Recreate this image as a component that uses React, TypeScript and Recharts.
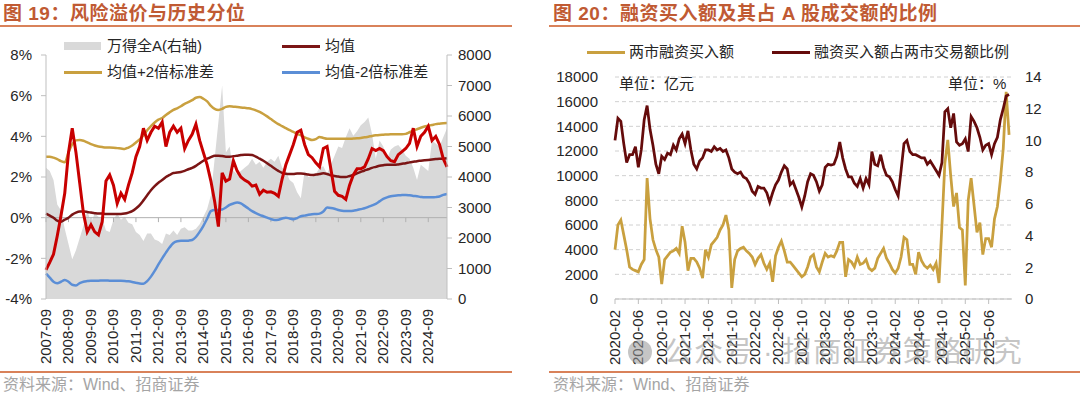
import React from 'react';
import { ComposedChart, LineChart, Area, Line, XAxis, YAxis, ReferenceLine, CartesianGrid } from 'recharts';

const FONT = "'Liberation Sans', 'Noto Sans CJK SC', sans-serif";
const TITLE_COLOR = '#c05a33';
const RULE_COLOR = '#d9825a';
const TEXT = '#262626';

// 图19 —— 每两个月一个点，从 2007-09 起
const leftTickLabels = [
  '2007-09', '2008-09', '2009-09', '2010-09', '2011-09', '2012-09', '2013-09', '2014-09', '2015-09',
  '2016-09', '2017-09', '2018-09', '2019-09', '2020-09', '2021-09', '2022-09', '2023-09', '2024-09',
];

// 万得全A（右轴）
const windA = [
  4300, 4200, 3900, 3100, 2900, 2300, 1800, 1300, 1600, 2000,
  2400, 2900, 2500, 2800, 2700, 2650, 2250, 2200, 2600, 2800,
  2600, 2700, 2500, 2450, 2200, 2100, 1900, 2150, 2150, 1950,
  1900, 1800, 2150, 2100, 2250, 2100, 2300, 2350, 2250, 2250,
  2300, 2450, 2700, 2950, 3400, 4600, 5800, 7000, 4800, 5000,
  4200, 4100, 4200, 4300, 4400, 4600, 4400, 4500, 4300, 4500,
  4600, 4500, 4700, 4300, 4200, 3900, 3800, 3500, 3300, 4200,
  4000, 4000, 4100, 4300, 4350, 4100, 4400, 4700, 5000, 4950,
  5300, 5600, 5350, 5500, 5700, 5800, 5950, 5400, 4600, 5200,
  5000, 4600, 4900, 5000, 5050, 4900, 4700, 4600, 4300, 3900,
  4400, 4300, 4200, 5200, 5100, 5000, 5300, 5600,
];

// 风险溢价 (%)
const riskPremium = [
  -2.57, -2.2, -1.8, -0.9, 0.1, 1.2, 3.2, 4.4, 3.2, 1.7,
  0.2, -0.7, -0.35, -0.7, -0.85, -0.2, 1.8, 2.1, 1.6, 0.7,
  1.2, 0.9, 1.6, 2.2, 3.0, 3.5, 4.4, 3.8, 4.2, 4.5,
  4.4, 4.7, 3.5, 4.2, 4.5, 4.2, 4.4, 3.4, 3.8, 4.1,
  4.6, 3.8, 3.2, 2.6, 1.8, 0.8, -0.44, 2.2, 1.8, 1.9,
  2.8, 2.3, 2.0, 1.85, 1.75, 1.55, 1.6, 1.15, 1.35, 1.25,
  1.27, 1.2, 1.05, 1.9, 2.6, 3.1, 3.6, 4.2, 4.3, 3.6,
  3.1, 2.95, 2.7, 2.5, 3.4, 3.5, 2.4, 1.3, 1.1, 1.05,
  0.9, 1.6, 2.1, 2.4, 2.4, 2.5, 2.9, 3.4, 3.3, 3.4,
  3.3, 3.0, 2.8, 2.75, 3.1, 3.25, 3.4, 3.65, 4.4, 3.5,
  4.0, 4.2, 4.5, 3.8, 4.0, 3.6, 2.9, 2.5,
];

// 均值
const meanLine = [
  0.2, 0.1, 0.0, -0.15, -0.2, -0.1, 0.0, 0.15, 0.25, 0.3,
  0.3, 0.28, 0.25, 0.22, 0.2, 0.2, 0.18, 0.18, 0.18, 0.18,
  0.18, 0.2, 0.25, 0.32, 0.45, 0.62, 0.85, 1.1, 1.35, 1.55,
  1.72, 1.85, 2.0, 2.1, 2.2, 2.22, 2.25, 2.3, 2.38, 2.45,
  2.55, 2.68, 2.8, 2.9, 2.98, 3.05, 3.05, 3.03, 3.0, 3.0,
  3.02, 3.05, 3.08, 3.1, 3.1, 3.08, 3.0, 2.9, 2.8, 2.68,
  2.55, 2.42, 2.3, 2.2, 2.16, 2.15, 2.15, 2.17, 2.17, 2.15,
  2.12, 2.1, 2.12, 2.15, 2.18, 2.15, 2.08, 2.05, 2.02, 2.0,
  2.0, 2.05, 2.1, 2.18, 2.25, 2.32, 2.38, 2.45, 2.5, 2.55,
  2.58, 2.6, 2.6, 2.6, 2.62, 2.65, 2.68, 2.72, 2.75, 2.78,
  2.8, 2.82, 2.84, 2.86, 2.88, 2.9, 2.9, 2.92,
];

// 均值+2倍标准差
const upperBand = [
  3.0, 3.0, 2.95, 2.88, 2.78, 2.72, 3.2, 3.6, 3.8, 3.82,
  3.78, 3.7, 3.62, 3.55, 3.5, 3.47, 3.45, 3.45, 3.44, 3.42,
  3.4, 3.38, 3.45, 3.55, 3.7, 3.85, 4.05, 4.3, 4.5, 4.68,
  4.82, 4.9, 5.05, 5.18, 5.3, 5.38, 5.48, 5.6, 5.68, 5.78,
  5.9, 5.93, 5.85, 5.72, 5.5, 5.35, 5.3, 5.35, 5.45, 5.48,
  5.46, 5.44, 5.42, 5.4, 5.38, 5.34, 5.28, 5.2, 5.1, 4.98,
  4.85, 4.72, 4.6, 4.5, 4.4, 4.3, 4.22, 4.12, 4.05, 3.95,
  3.88, 3.82, 3.86, 3.97, 3.92, 3.88, 3.88, 3.88, 3.88, 3.88,
  3.88, 3.88, 3.89, 3.9, 3.92, 3.95, 3.98, 4.02, 4.05, 4.07,
  4.08, 4.09, 4.1, 4.1, 4.1, 4.1, 4.12, 4.2, 4.28, 4.35,
  4.42, 4.48, 4.52, 4.56, 4.6, 4.62, 4.64, 4.65,
];

// 均值-2倍标准差
const lowerBand = [
  -2.75, -2.95, -3.15, -3.22, -3.15, -3.07, -3.15, -3.3, -3.33, -3.22,
  -3.15, -3.12, -3.1, -3.1, -3.1, -3.09, -3.09, -3.1, -3.1, -3.1,
  -3.1, -3.11, -3.13, -3.16, -3.2, -3.24, -3.25, -3.12, -2.9, -2.62,
  -2.3, -2.0, -1.72, -1.46, -1.25, -1.16, -1.14, -1.14, -1.13, -1.1,
  -0.95, -0.7, -0.4, -0.05, 0.32, 0.38, 0.38, 0.4, 0.5, 0.63,
  0.7, 0.74, 0.7, 0.58, 0.45, 0.32, 0.22, 0.14, 0.07, 0.0,
  -0.07, -0.11, -0.1, -0.04, 0.0, -0.04, -0.08, -0.02, 0.07, 0.1,
  0.14, 0.17, 0.18, 0.2, 0.3, 0.5, 0.48, 0.44, 0.38, 0.34,
  0.33, 0.33, 0.34, 0.38, 0.42, 0.46, 0.53, 0.6, 0.68, 0.8,
  0.92, 1.0, 1.05, 1.08, 1.1, 1.11, 1.12, 1.1, 1.07, 1.05,
  1.02, 1.0, 1.0, 1.0, 1.01, 1.04, 1.12, 1.16,
];

// 图20 —— 每半个月一个点，从 2020-02 起
const rightTickLabels = [
  '2020-02', '2020-06', '2020-10', '2021-02', '2021-06', '2021-10', '2022-02', '2022-06', '2022-10',
  '2023-02', '2023-06', '2023-10', '2024-02', '2024-06', '2024-10', '2025-02', '2025-06',
];

// 两市融资买入额（亿元）
const marginBuy = [
  4000, 6000, 6400, 5200, 4000, 2600, 2400, 2300, 2200, 2800,
  3200, 9800, 6500, 4800, 4000, 3400, 1200, 3200, 3500, 3800,
  3900, 4100, 3700, 5900, 4600, 2300, 3300, 3300, 3000, 2500,
  1700, 4000, 3400, 4400, 4700, 5000, 5600, 6000, 6800, 5600,
  900, 3200, 3900, 4100, 4200, 3900, 3700, 3400, 2800, 3300,
  3600, 2900, 2400, 2900, 1400, 3500, 4200, 4700, 3900, 3000,
  3000, 2700, 2400, 2100, 1800, 2000, 2600, 3400, 3600, 2600,
  2200, 3000, 3700, 3400, 3500, 3400, 3900, 4600, 4600, 1800,
  3200, 3000, 2600, 3400, 2800, 2900, 3200, 2500, 2300, 2500,
  3300, 3700, 4100, 3300, 2900, 2400, 2100, 2500, 3400, 5000,
  4800, 2800, 2800, 2000, 3800, 3100, 2700, 2500, 2750, 2400,
  2900, 1300, 6000, 11000, 12900, 10000, 7500, 8600, 5800, 5600,
  1100, 8000, 9800, 7600, 5400, 6200, 3600, 4900, 4900, 4200,
  6500, 7500, 9600, 12200, 16800, 13300,
];

// 融资买入额占两市交易额比例 (%)
const buyRatio = [
  10.0, 11.4, 11.2, 9.8, 8.6, 9.1, 9.1, 9.6, 8.3, 9.4,
  11.3, 12.2, 10.7, 9.7, 8.5, 7.9, 9.0, 8.8, 9.2, 9.1,
  9.7, 9.4, 10.1, 10.4, 9.8, 10.6, 9.4, 8.5, 8.2, 8.7,
  8.9, 9.4, 9.4, 9.3, 9.6, 9.4, 9.5, 9.3, 9.4, 8.9,
  8.2, 8.0, 7.9, 8.0, 7.7, 7.6, 7.3, 6.8, 6.6, 7.1,
  7.0, 7.0, 6.7, 6.1, 6.7, 7.2, 7.5, 8.0, 8.4, 8.2,
  7.2, 7.4, 6.9, 6.4, 5.8, 6.5, 7.4, 7.9, 7.8, 7.4,
  6.8, 7.2, 8.3, 8.5, 8.45, 8.5, 9.0, 9.9, 8.9, 8.2,
  7.7, 7.7, 7.3, 7.1, 7.6, 7.0, 7.6, 7.2, 9.3, 8.5,
  8.4, 9.1, 8.3, 7.8, 7.7, 7.4, 6.9, 6.5, 8.1, 9.8,
  10.0, 9.3, 9.1, 9.1, 9.0, 8.9, 8.9, 8.5, 8.7, 8.4,
  8.1, 7.8, 8.6, 11.8, 12.0, 10.8, 11.7, 9.9, 9.7, 9.8,
  10.1, 9.3, 11.5, 11.2, 10.8, 10.2, 9.4, 9.7, 9.8, 9.1,
  9.8, 10.2, 11.3, 12.0, 12.8, 12.9,
];

const leftRows = riskPremium.map((v, i) => ({
  m: i * 2,
  premium: v,
  windA: windA[i],
  mean: meanLine[i],
  upper: upperBand[i],
  lower: lowerBand[i],
}));
const leftTicks = leftTickLabels.map((_, i) => i * 12);

const rightRows = marginBuy.map((v, i) => ({ n: i * 0.5, buy: v, ratio: buyRatio[i] }));
const rightTicks = rightTickLabels.map((_, i) => i * 4);

const VerticalTick = (props: any) => {
  const { x = 0, y = 0, payload, labels, step } = props;
  const label = labels[Math.round((payload?.value ?? 0) / step)] ?? '';
  return (
    <text
      x={x}
      y={y}
      dy={5}
      transform={`rotate(-90 ${x} ${y})`}
      textAnchor="end"
      fontSize={15}
      fill={TEXT}
      fontFamily={FONT}
    >
      {label}
    </text>
  );
};

const Abs = ({ x, y, children, style }: any) => (
  <div style={{ position: 'absolute', left: x, top: y, whiteSpace: 'nowrap', ...style }}>{children}</div>
);

const LineSwatch = ({ x, y, color }: any) => (
  <div style={{ position: 'absolute', left: x, top: y - 1.5, width: 38, height: 3, background: color }} />
);

const Label = ({ x, y, text }: any) => (
  <Abs x={x} y={y - 10} style={{ fontSize: 15, lineHeight: '20px', color: TEXT }}>{text}</Abs>
);

export default function App() {
  const axisTick = { fontSize: 15, fill: TEXT, fontFamily: FONT };
  return (
    <div
      style={{
        position: 'absolute', left: 0, top: 0, width: 1080, height: 395,
        background: '#fff', overflow: 'hidden', fontFamily: FONT,
      }}
    >
      {/* titles and rules */}
      <Abs x={3} y={3} style={{ fontSize: 19, fontWeight: 700, color: TITLE_COLOR, lineHeight: '22px', letterSpacing: 0.5 }}>
        图 19：风险溢价与历史分位
      </Abs>
      <Abs x={553} y={3} style={{ fontSize: 19, fontWeight: 700, color: TITLE_COLOR, lineHeight: '22px', letterSpacing: 0.5 }}>
        图 20：融资买入额及其占 A 股成交额的比例
      </Abs>
      <div style={{ position: 'absolute', left: 0, top: 25, width: 512, height: 2, background: RULE_COLOR }} />
      <div style={{ position: 'absolute', left: 549, top: 25, width: 531, height: 2, background: RULE_COLOR }} />

      {/* left chart */}
      <div style={{ position: 'absolute', left: 0, top: 0 }}>
        <ComposedChart width={540} height={372} data={leftRows} margin={{ top: 55, right: 33, bottom: 3, left: 0 }}>
          <XAxis
            dataKey="m"
            type="number"
            domain={[0, 214]}
            ticks={leftTicks}
            interval={0}
            axisLine={false}
            tickLine={false}
            tickSize={0}
            tickMargin={10}
            height={70}
            tick={(p: any) => <VerticalTick {...p} labels={leftTickLabels} step={12} />}
          />
          <YAxis
            yAxisId="left"
            domain={[-4, 8]}
            ticks={[-4, -2, 0, 2, 4, 6, 8]}
            tickFormatter={(v: number) => `${v}%`}
            width={46}
            axisLine={{ stroke: '#bfbfbf' }}
            tickLine={{ stroke: '#bfbfbf' }}
            tickSize={5}
            tickMargin={9}
            tick={axisTick}
          />
          <YAxis
            yAxisId="right"
            orientation="right"
            domain={[0, 8000]}
            ticks={[0, 1000, 2000, 3000, 4000, 5000, 6000, 7000, 8000]}
            width={60}
            axisLine={{ stroke: '#bfbfbf' }}
            tickLine={{ stroke: '#bfbfbf' }}
            tickSize={5}
            tickMargin={6}
            tick={axisTick}
          />
          <Area
            yAxisId="right"
            dataKey="windA"
            type="linear"
            stroke="none"
            fill="#d9d9d9"
            fillOpacity={1}
            isAnimationActive={false}
          />
          <ReferenceLine yAxisId="left" y={0} stroke="#b0b0b0" strokeWidth={1} />
          {leftTicks.map((t) => (
            <ReferenceLine
              key={t}
              yAxisId="left"
              segment={[{ x: t, y: 0 }, { x: t, y: -0.22 }]}
              stroke="#b0b0b0"
            />
          ))}
          <Line yAxisId="left" dataKey="upper" type="monotone" stroke="#c9a03f" strokeWidth={2.5} dot={false} isAnimationActive={false} />
          <Line yAxisId="left" dataKey="lower" type="monotone" stroke="#5b8ed6" strokeWidth={2.5} dot={false} isAnimationActive={false} />
          <Line yAxisId="left" dataKey="mean" type="monotone" stroke="#7b1515" strokeWidth={2.5} dot={false} isAnimationActive={false} />
          <Line yAxisId="left" dataKey="premium" type="linear" stroke="#c80000" strokeWidth={3} dot={false} isAnimationActive={false} />
        </ComposedChart>
      </div>

      {/* left legend */}
      <div style={{ position: 'absolute', left: 64, top: 42, width: 37, height: 8, background: '#d9d9d9' }} />
      <Label x={107} y={46} text="万得全A(右轴)" />
      <LineSwatch x={282} y={46} color="#7b1515" />
      <Label x={325} y={46} text="均值" />
      <LineSwatch x={64} y={72} color="#c9a03f" />
      <Label x={107} y={72} text="均值+2倍标准差" />
      <LineSwatch x={282} y={72} color="#5b8ed6" />
      <Label x={325} y={72} text="均值-2倍标准差" />

      {/* right chart */}
      <div style={{ position: 'absolute', left: 540, top: 0 }}>
        <LineChart width={540} height={372} data={rightRows} margin={{ top: 77, right: 18, bottom: 3, left: 0 }}>
          <CartesianGrid yAxisId="left" vertical={false} stroke="#d0d0d0" strokeDasharray="4 3" />
          <XAxis
            dataKey="n"
            type="number"
            domain={[0, 68]}
            ticks={rightTicks}
            interval={0}
            axisLine={{ stroke: '#bfbfbf' }}
            tickLine={{ stroke: '#bfbfbf' }}
            tickSize={5}
            tickMargin={6}
            height={70}
            tick={(p: any) => <VerticalTick {...p} labels={rightTickLabels} step={4} />}
          />
          <YAxis
            yAxisId="left"
            domain={[0, 18000]}
            ticks={[0, 2000, 4000, 6000, 8000, 10000, 12000, 14000, 16000, 18000]}
            width={75}
            axisLine={false}
            tickLine={false}
            tickSize={6}
            tickMargin={11}
            tick={axisTick}
          />
          <YAxis
            yAxisId="right"
            orientation="right"
            domain={[0, 14]}
            ticks={[0, 2, 4, 6, 8, 10, 12, 14]}
            width={50}
            axisLine={false}
            tickLine={false}
            tickSize={6}
            tickMargin={7}
            tick={axisTick}
          />
          <Line yAxisId="left" dataKey="buy" type="linear" stroke="#c9a03f" strokeWidth={2.75} dot={false} isAnimationActive={false} />
          <Line yAxisId="right" dataKey="ratio" type="linear" stroke="#650b0b" strokeWidth={2.75} dot={false} isAnimationActive={false} />
        </LineChart>
      </div>

      {/* right legend and unit labels */}
      <LineSwatch x={587} y={52} color="#c9a03f" />
      <Label x={629} y={52} text="两市融资买入额" />
      <LineSwatch x={772} y={52} color="#650b0b" />
      <Label x={814} y={52} text="融资买入额占两市交易额比例" />
      <Label x={619} y={84} text="单位：亿元" />
      <Label x={948} y={84} text="单位：%" />

      {/* watermark */}
      <div style={{ position: 'absolute', left: 628, top: 340, width: 24, height: 24, borderRadius: 12, background: 'rgba(150,150,150,0.55)' }} />
      <Abs x={664} y={334} style={{ fontSize: 29, lineHeight: '36px', color: 'rgba(140,140,140,0.5)', letterSpacing: 1 }}>
        公众号 · 招商证券策略研究
      </Abs>

      {/* bottom rules and sources */}
      <div style={{ position: 'absolute', left: 0, top: 371, width: 512, height: 1.5, background: RULE_COLOR }} />
      <div style={{ position: 'absolute', left: 549, top: 371, width: 531, height: 1.5, background: RULE_COLOR }} />
      <Abs x={3} y={375} style={{ fontSize: 16, lineHeight: '20px', color: '#a5a5a5' }}>资料来源：Wind、招商证券</Abs>
      <Abs x={553} y={375} style={{ fontSize: 16, lineHeight: '20px', color: '#a5a5a5' }}>资料来源：Wind、招商证券</Abs>
    </div>
  );
}
